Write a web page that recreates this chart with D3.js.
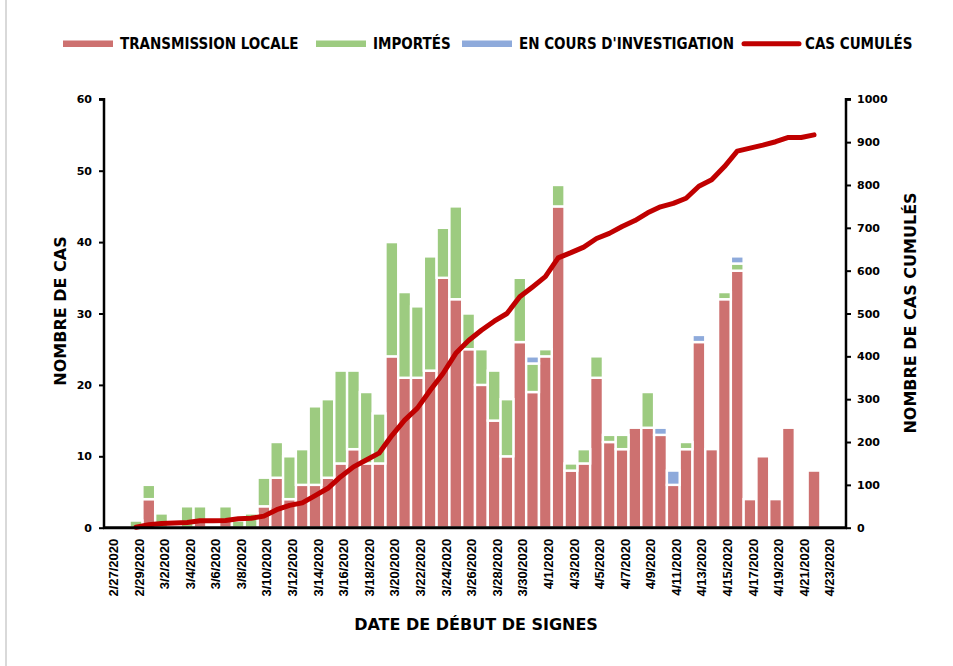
<!DOCTYPE html>
<html>
<head>
<meta charset="utf-8">
<script src="https://cdnjs.cloudflare.com/ajax/libs/d3/7.8.5/d3.min.js"></script>
<style>
    body { margin: 0; background: #fff; }
    svg { display: block; }
    .tick-label { font-family: "DejaVu Sans", sans-serif; font-weight: bold; font-size: 11px; fill: #000; }
    .date-label { font-family: "Liberation Sans", Arial, sans-serif; font-weight: bold; font-size: 13px; fill: #000; }
    .axis-title { font-family: "DejaVu Sans", sans-serif; font-weight: bold; font-size: 16px; fill: #000; }
    .legend-text { font-family: "DejaVu Sans Condensed", sans-serif; font-weight: bold; font-size: 15px; fill: #000; }
</style>
</head>
<body>
<div id="chart"></div>
<script>
// Dates (2/27/2020 -> 4/24/2020)
const DATES = [
    '2/27/2020', '2/28/2020', '2/29/2020',
    '3/1/2020', '3/2/2020', '3/3/2020', '3/4/2020', '3/5/2020', '3/6/2020', '3/7/2020', '3/8/2020',
    '3/9/2020', '3/10/2020', '3/11/2020', '3/12/2020', '3/13/2020', '3/14/2020', '3/15/2020', '3/16/2020',
    '3/17/2020', '3/18/2020', '3/19/2020', '3/20/2020', '3/21/2020', '3/22/2020', '3/23/2020', '3/24/2020',
    '3/25/2020', '3/26/2020', '3/27/2020', '3/28/2020', '3/29/2020', '3/30/2020', '3/31/2020',
    '4/1/2020', '4/2/2020', '4/3/2020', '4/4/2020', '4/5/2020', '4/6/2020', '4/7/2020', '4/8/2020',
    '4/9/2020', '4/10/2020', '4/11/2020', '4/12/2020', '4/13/2020', '4/14/2020', '4/15/2020', '4/16/2020',
    '4/17/2020', '4/18/2020', '4/19/2020', '4/20/2020', '4/21/2020', '4/22/2020', '4/23/2020', '4/24/2020'
];

// Dates shown on the x axis
const DATE_TICKS = [
    '2/27/2020', '2/29/2020', '3/2/2020', '3/4/2020', '3/6/2020', '3/8/2020', '3/10/2020', '3/12/2020',
    '3/14/2020', '3/16/2020', '3/18/2020', '3/20/2020', '3/22/2020', '3/24/2020', '3/26/2020', '3/28/2020',
    '3/30/2020', '4/1/2020', '4/3/2020', '4/5/2020', '4/7/2020', '4/9/2020', '4/11/2020', '4/13/2020',
    '4/15/2020', '4/17/2020', '4/19/2020', '4/21/2020', '4/23/2020'
];

// Transmission locale
const LOCAL = [
    0, 0, 0,
    4, 0, 0, 0, 1, 0, 1, 0,
    0, 3, 7, 4, 6, 6, 7, 9,
    11, 9, 9, 24, 21, 21, 22, 35,
    32, 25, 20, 15, 10, 26, 19,
    24, 45, 8, 9, 21, 12, 11, 14,
    14, 13, 6, 11, 26, 11, 32, 36,
    4, 10, 4, 14, 0, 8, 0, 0
];

// Importés
const IMPORTED = [
    0, 0, 1,
    2, 2, 0, 3, 2, 0, 2, 1,
    2, 4, 5, 6, 5, 11, 11, 13,
    11, 10, 7, 16, 12, 10, 16, 7,
    13, 5, 5, 7, 8, 9, 4,
    1, 3, 1, 2, 3, 1, 2, 0,
    5, 0, 0, 1, 0, 0, 1, 1,
    0, 0, 0, 0, 0, 0, 0, 0
];

// En cours d'investigation
const INVESTIGATION = [
    0, 0, 0,
    0, 0, 0, 0, 0, 0, 0, 0,
    0, 0, 0, 0, 0, 0, 0, 0,
    0, 0, 0, 0, 0, 0, 0, 0,
    0, 0, 0, 0, 0, 0, 1,
    0, 0, 0, 0, 0, 0, 0, 0,
    0, 1, 2, 0, 1, 0, 0, 1,
    0, 0, 0, 0, 0, 0, 0, 0
];

// Cas cumulés (null = pas de point)
const CUMULATIVE = [
    null, null, 1,
    7, 10, 11, 12, 16, 16, 17, 21,
    22, 27, 42, 52, 58, 75, 92, 119,
    142, 158, 174, 215, 251, 279, 321, 360,
    407, 437, 461, 482, 500, 539, 562,
    586, 630, 642, 655, 675, 687, 703, 717,
    735, 749, 757, 769, 797, 812, 843, 879,
    886, 893, 901, 911, 911, 917, null, null
];

const COLORS = {
    local: '#CD7170',
    imported: '#9DCB80',
    investigation: '#8EAADB',
    line: '#C00000'
};

const SERIES = [
    { key: 'local', values: LOCAL, name: 'TRANSMISSION LOCALE' },
    { key: 'imported', values: IMPORTED, name: 'IMPORTÉS' },
    { key: 'investigation', values: INVESTIGATION, name: "EN COURS D'INVESTIGATION" }
];

const width = 953, height = 666;
const plot = { left: 104, right: 846, top: 99.3, bottom: 527.7 };

const svg = d3.select('#chart').append('svg')
    .attr('width', width)
    .attr('height', height);

// cadre gauche
svg.append('line')
    .attr('x1', 6).attr('x2', 6)
    .attr('y1', 0).attr('y2', height)
    .attr('stroke', '#d9d9d9')
    .attr('stroke-width', 2);

const x = d3.scaleBand()
    .domain(DATES)
    .range([plot.left, plot.right])
    .padding(0);

const y = d3.scaleLinear().domain([0, 60]).range([plot.bottom, plot.top]);
const y2 = d3.scaleLinear().domain([0, 1000]).range([plot.bottom, plot.top]);

// Stacked bars
const rows = DATES.map((d, i) => ({
    date: d,
    local: LOCAL[i],
    imported: IMPORTED[i],
    investigation: INVESTIGATION[i]
}));

const stack = d3.stack().keys(SERIES.map(s => s.key))(rows);

svg.append('g')
    .selectAll('g')
    .data(stack)
    .enter()
    .append('g')
    .attr('fill', d => COLORS[d.key])
    .selectAll('rect')
    .data(d => d.filter(p => p[1] - p[0] > 0))
    .enter()
    .append('rect')
    .attr('x', d => x(d.data.date))
    .attr('width', x.bandwidth())
    .attr('y', d => y(d[1]))
    .attr('height', d => y(d[0]) - y(d[1]))
    .attr('stroke', '#fff')
    .attr('stroke-width', 2.4);

// Cumulative line
const line = d3.line()
    .defined(d => d.v !== null)
    .x(d => x(d.date) + x.bandwidth() / 2)
    .y(d => y2(d.v));

svg.append('path')
    .datum(DATES.map((d, i) => ({ date: d, v: CUMULATIVE[i] })))
    .attr('fill', 'none')
    .attr('stroke', COLORS.line)
    .attr('stroke-width', 5)
    .attr('stroke-linejoin', 'round')
    .attr('stroke-linecap', 'round')
    .attr('d', line);

// Axes
const leftAxis = svg.append('g')
    .attr('transform', `translate(${plot.left},0)`)
    .call(d3.axisLeft(y).tickValues(d3.range(0, 61, 10)).tickSize(5).tickPadding(7));

const rightAxis = svg.append('g')
    .attr('transform', `translate(${plot.right},0)`)
    .call(d3.axisRight(y2).tickValues(d3.range(0, 1001, 100)).tickFormat(d3.format('d')).tickSize(5).tickPadding(6));

[leftAxis, rightAxis].forEach(a => {
    a.select('.domain').attr('stroke', '#000').attr('stroke-width', 2.5);
    a.selectAll('.tick line').attr('stroke', '#000').attr('stroke-width', 2);
    a.selectAll('.tick text').attr('class', 'tick-label').attr('font-family', null).attr('font-size', null);
});
leftAxis.select('.domain').attr('d', `M-5,${plot.top}H0V${plot.bottom}`);
rightAxis.select('.domain').attr('d', `M5,${plot.top}H0V${plot.bottom}`);

svg.append('line')
    .attr('x1', plot.left - 1).attr('x2', plot.right + 1)
    .attr('y1', plot.bottom).attr('y2', plot.bottom)
    .attr('stroke', '#000')
    .attr('stroke-width', 3);

// Date labels
svg.append('g')
    .selectAll('text')
    .data(DATE_TICKS)
    .enter()
    .append('text')
    .attr('class', 'date-label')
    .attr('transform', d => `translate(${x(d) + x.bandwidth() / 2 + 3},${plot.bottom + 11}) rotate(-90)`)
    .attr('text-anchor', 'end')
    .attr('dy', '0.35em')
    .text(d => d);

// Axis titles
svg.append('text')
    .attr('class', 'axis-title')
    .attr('transform', 'translate(66,311) rotate(-90)')
    .attr('text-anchor', 'middle')
    .text('NOMBRE DE CAS');

svg.append('text')
    .attr('class', 'axis-title')
    .attr('transform', 'translate(916,313) rotate(-90)')
    .attr('text-anchor', 'middle')
    .text('NOMBRE DE CAS CUMULÉS');

svg.append('text')
    .attr('class', 'axis-title')
    .attr('x', 476)
    .attr('y', 630)
    .attr('text-anchor', 'middle')
    .text('DATE DE DÉBUT DE SIGNES');

// Legend
const legendItems = [
    { name: SERIES[0].name, color: COLORS.local, x: 63, type: 'bar' },
    { name: SERIES[1].name, color: COLORS.imported, x: 316, type: 'bar' },
    { name: SERIES[2].name, color: COLORS.investigation, x: 462, type: 'bar' },
    { name: 'CAS CUMULÉS', color: COLORS.line, x: 742, type: 'line' }
];

const legend = svg.append('g');
legendItems.forEach(item => {
    if (item.type === 'bar') {
        legend.append('rect')
            .attr('x', item.x).attr('y', 40.5)
            .attr('width', 50).attr('height', 6.5)
            .attr('fill', item.color);
    } else {
        legend.append('line')
            .attr('x1', item.x + 2).attr('x2', item.x + 57)
            .attr('y1', 43.7).attr('y2', 43.7)
            .attr('stroke', item.color)
            .attr('stroke-width', 5)
            .attr('stroke-linecap', 'round');
    }
    legend.append('text')
        .attr('class', 'legend-text')
        .attr('x', item.x + (item.type === 'bar' ? 57 : 63))
        .attr('y', 48.5)
        .text(item.name);
});
</script>
</body>
</html>
